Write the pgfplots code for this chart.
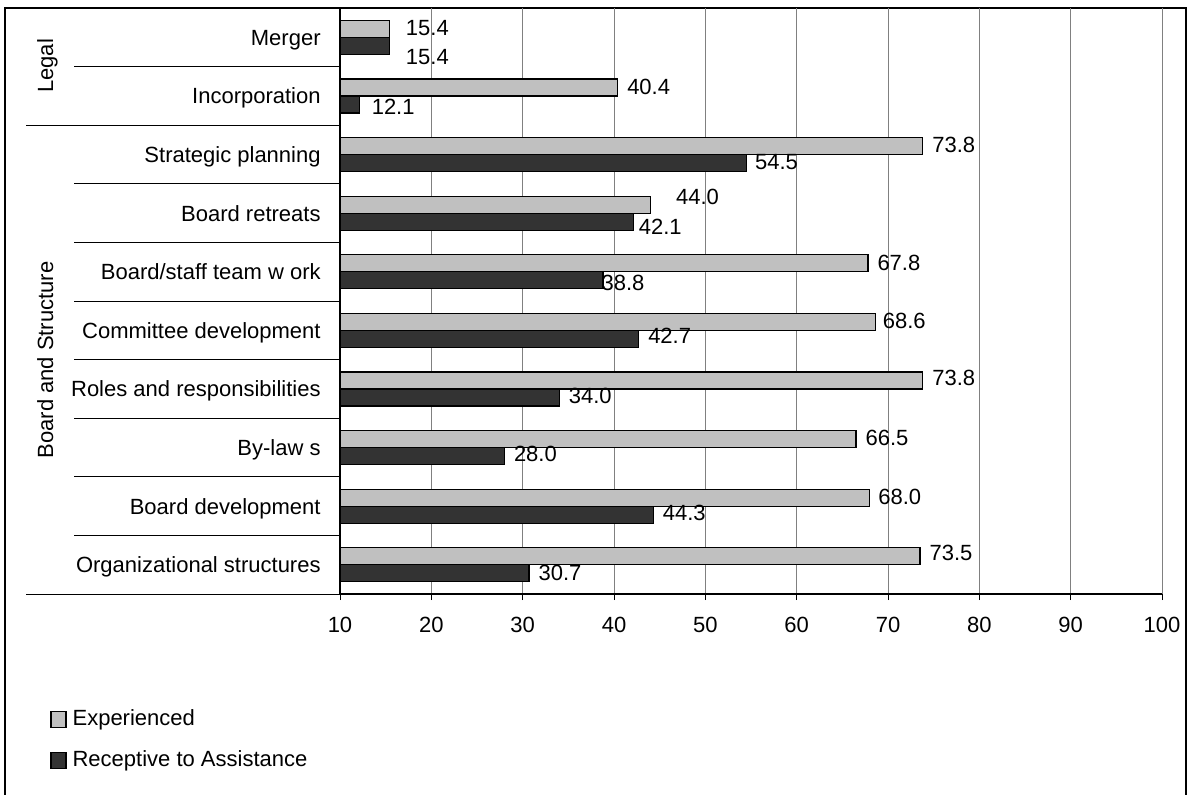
\documentclass[border=0pt]{standalone}
\usepackage{pgfplots}
\pgfplotsset{compat=1.18}
\usepackage{pgfplotstable}
\usepackage{fontspec}
\setmainfont{Liberation Sans}

% drawing unit: one picture pixel
\def\px{*0.5pt}

\definecolor{lightbar}{HTML}{C0C0C0}
\definecolor{darkbar}{HTML}{333333}

% pos = row (10 = top), val = percentage, dx/dy = label offset in px
\pgfplotstableread{
pos val dx dy
10 15.4 16 -1
9  40.4 9  -1
8  73.8 9  -1
7  44.0 25 -8.5
6  67.8 9  -1
5  68.6 7  -1
4  73.8 9  -3
3  66.5 9  -1
2  68.0 8  -1.5
1  73.5 9  -3.5
}\experienced

\pgfplotstableread{
pos val dx dy
10 15.4 16 11
9  12.1 12 2
8  54.5 8  -1
7  42.1 5  4.5
6  38.8 -2 2.5
5  42.7 9  -3
4  34.0 9  -2
3  28.0 9  -2
2  44.3 9  -2.5
1  30.7 9  -1
}\receptive

\begin{document}
\begin{tikzpicture}[font=\fontsize{11}{13.2}\selectfont]
\useasboundingbox (0,0) rectangle (1193\px,-794\px);

% outer frame
\draw[line width=0.6pt] (5\px,-810\px) -- (5\px,-8\px) -- (1186\px,-8\px) -- (1186\px,-810\px);

\begin{axis}[
  at={(340\px,-594\px)}, anchor=south west,
  scale only axis, width=411pt, height=293pt,
  xmin=10, xmax=100, ymin=0.5, ymax=10.5,
  axis x line*=bottom, axis y line*=left,
  axis line style={-, line width=0.6pt, black},
  /pgf/number format/assume math mode=true,
  xtick={10,20,...,100},
  xmajorgrids, grid style={line width=0.5pt, color=gray},
  tick align=outside, major tick length=3pt,
  xtick style={line width=0.5pt, black},
  xticklabel style={anchor=base, inner sep=0pt, yshift=-16pt},
  ytick={1,...,10},
  yticklabels={Organizational structures, Board development, By-law s,
    Roles and responsibilities, Committee development,
    Board/staff team w ork, Board retreats, Strategic planning,
    Incorporation, Merger},
  ytick style={draw=none},
  yticklabel style={anchor=base east, inner sep=0pt, xshift=-13\px, yshift=-7.9\px},
  nodes near coords={\pgfmathprintnumber[fixed,zerofill,precision=1]{\pgfplotspointmeta}},
  point meta=x,
  visualization depends on={\thisrow{dx} \as \labdx},
  visualization depends on={\thisrow{dy} \as \labdy},
  nodes near coords style={anchor=base west, inner sep=0pt, black,
    xshift=\labdx\px, yshift=-7.9\px-\labdy\px},
  legend cell align=left,
  legend style={draw=none, fill=none, inner sep=0pt, row sep=7pt, column sep=1pt,
    at={(axis description cs:-0.3528,-0.1900)}, anchor=north west,
    font=\fontsize{11}{13.2}\selectfont},
  legend image code/.code={\draw[#1] (0pt,-4pt) rectangle (7.5pt,4pt);},
]
\addplot[xbar, bar width=8.5pt, bar shift=4.25pt, fill=lightbar, draw=black, line width=0.6pt,
  every node near coord/.append style={yshift=8.5\px}]
  table[x=val, y=pos] {\experienced};
\addplot[xbar, bar width=8.5pt, bar shift=-4.25pt, fill=darkbar, draw=black, line width=0.6pt,
  every node near coord/.append style={yshift=-8.5\px}]
  table[x=val, y=pos] {\receptive};
\legend{Experienced, Receptive to Assistance}
\end{axis}

% left axis line over the bar ends
\draw[line width=0.6pt] (340\px,-8\px) -- (340\px,-594\px);

% category separators
\foreach \k in {1,3,4,5,6,7,8,9}
  \draw[line width=0.5pt] (74\px,-8\px-\k*58.6\px) -- (340\px,-8\px-\k*58.6\px);
% group separators
\draw[line width=0.5pt] (26\px,-8\px-2*58.6\px) -- (340\px,-8\px-2*58.6\px);
\draw[line width=0.5pt] (26\px,-594\px) -- (340\px,-594\px);

% group labels
\node[rotate=90, anchor=base, inner sep=0pt] at (53\px,-66\px) {Legal};
\node[rotate=90, anchor=base, inner sep=0pt] at (53\px,-360\px) {Board and Structure};
\end{tikzpicture}
\end{document}
